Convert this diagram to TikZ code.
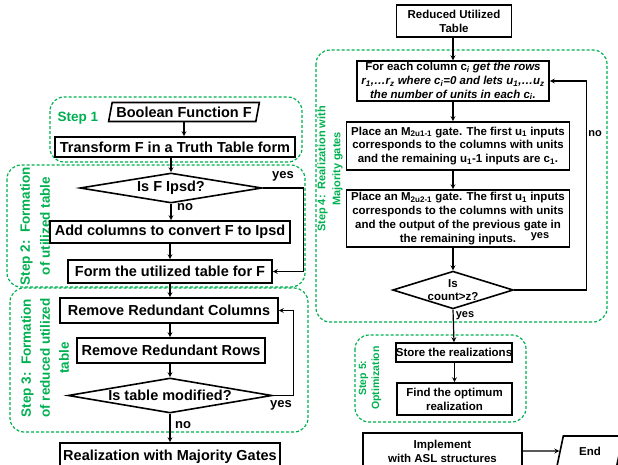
\documentclass[tikz,border=0pt]{standalone}
\usepackage{fontspec}
\setmainfont{Liberation Sans}
\usetikzlibrary{shapes.geometric}
\definecolor{stepgreen}{RGB}{0,176,80}
\tikzset{
  block/.style={draw, line width=1.6pt, inner sep=1pt},
  bigtext/.style={font=\bfseries\fontsize{14.5}{17}\selectfont},
  smalltext/.style={align=center, font=\bfseries\fontsize{11.5}{13.8}\selectfont},
  decision/.style={diamond, draw, line width=1.6pt, inner sep=0pt, aspect=6},
  io/.style={trapezium, trapezium left angle=75, trapezium right angle=105,
    trapezium stretches=true, draw, line width=1.6pt, inner sep=1pt},
  group/.style={draw=stepgreen, line width=1.2pt, dash pattern=on 3pt off 2pt, rounded corners=14pt},
  steplabel/.style={text=stepgreen, align=center, font=\bfseries\fontsize{13.5}{19}\selectfont},
  link/.style={-stealth, line width=1.2pt},
  answer/.style={font=\bfseries\fontsize{13}{15}\selectfont},
  smallanswer/.style={font=\bfseries\fontsize{11}{13}\selectfont},
}
\begin{document}
\begin{tikzpicture}[x=1pt, y=-1pt]
  \useasboundingbox (0,0) rectangle (618,464);

  % dashed step groups
  \draw[group] (50,97) rectangle (302,162);
  \draw[group] (7,165) rectangle (305,287);
  \draw[group] (10,288) rectangle (308,432);
  \draw[group] (316,50) rectangle (607,322);
  \draw[group] (355,335) rectangle (526,422);

  \node[steplabel] (s1) at (78,118) {Step 1};
  \node[steplabel, rotate=90, font=\bfseries\fontsize{13.5}{20}\selectfont] (s2) at (35,226) {Step 2:~~Formation\\of utilized table};
  \node[steplabel, rotate=90] (s3) at (45,358) {Step 3:~~Formation\\of reduced utilized\\table};
  \node[steplabel, rotate=90, font=\bfseries\fontsize{11}{15}\selectfont] (s4) at (330,169) {Step 4:~~Realization with\\Majority gates};
  \node[steplabel, rotate=90, font=\bfseries\fontsize{10.5}{13}\selectfont] (s5) at (370,378) {Step 5:\\Optimization};

  % left column
  \node[io, bigtext, minimum width=151pt, minimum height=19pt] (bool) at (184,112) {Boolean Function F};
  \node[block, bigtext, minimum width=240pt, minimum height=20pt] (trans) at (175,147) {Transform F in a Truth Table form};
  \node[decision, bigtext, minimum width=182pt, minimum height=30pt] (ipsd) at (171,188) {Is F Ipsd?};
  \node[block, bigtext, minimum width=240pt, minimum height=22pt] (addcol) at (170,232) {Add columns to convert F to Ipsd};
  \node[block, bigtext, minimum width=204pt, minimum height=23pt] (form) at (170,271.5) {Form the utilized table for F};
  \node[block, bigtext, minimum width=218pt, minimum height=25pt] (remcol) at (169,310.5) {Remove Redundant Columns};
  \node[block, bigtext, minimum width=188pt, minimum height=25pt] (remrow) at (171,350.5) {Remove Redundant Rows};
  \node[decision, bigtext, minimum width=204pt, minimum height=35pt] (modif) at (170,395.5) {Is table modified?};
  \node[block, bigtext, minimum width=220pt, minimum height=28pt] (realiz) at (170,457) {Realization with Majority Gates};

  \draw[link] (bool.south) -- (bool.south |- trans.north);
  \draw[link] (trans.south -| ipsd.north) -- (ipsd.north);
  \draw[link] (ipsd.south) -- (ipsd.south |- addcol.north);
  \draw[link] (addcol.south) -- (form.north);
  \draw[link] (form.south) -- (form.south |- remcol.north);
  \draw[link] (remcol.south -| modif.north) -- (modif.north |- remrow.north);
  \draw[link] (remrow.south -| modif.north) -- (modif.north);
  \draw[link] (modif.south) -- (realiz.north);
  \draw[link] (ipsd.east) -- ++(41,0) |- (form.east);
  \draw[link] (modif.east) -- ++(21,0) |- (remcol.east);

  \node[answer] (yes1) at (283,176) {yes};
  \node[answer] (no1) at (185,207) {no};
  \node[answer] (yes2) at (281,405) {yes};
  \node[answer] (no2) at (183,425) {no};

  % right column
  \node[block, smalltext, minimum width=115pt, minimum height=32pt] (red) at (454,21) {Reduced Utilized\\Table};
  \node[block, smalltext, minimum width=192pt, minimum height=38pt] (each) at (453,81)
    {For each column c\textsubscript{\itshape i} \textit{get the rows}\\
     \itshape r\textsubscript{1},…r\textsubscript{z} where c\textsubscript{i}=0 and lets u\textsubscript{1},…u\textsubscript{z}\\
     \itshape the number of units in each c\textsubscript{i}.};
  \node[block, smalltext, minimum width=223pt, minimum height=48pt] (gate1) at (458,146)
    {Place an M\textsubscript{2u1-1} gate. The first u\textsubscript{1} inputs\\
     corresponds to the columns with units\\
     and the remaining u\textsubscript{1}-1 inputs are c\textsubscript{1}.};
  \node[block, smalltext, minimum width=223pt, minimum height=57pt] (gate2) at (458,218.5)
    {Place an M\textsubscript{2u2-1} gate. The first u\textsubscript{1} inputs\\
     corresponds to the columns with units\\
     and the output of the previous gate in\\
     the remaining inputs.};
  \node[decision, smalltext, aspect=3.2, minimum width=120pt, minimum height=36pt] (count) at (453,290) {Is\\count>z?};
  \node[block, smalltext, inner sep=0pt, minimum width=116pt, minimum height=19pt] (store) at (454,352.5) {Store the realizations};
  \node[block, smalltext, minimum width=115pt, minimum height=32pt] (optim) at (454.5,399) {Find the optimum\\realization};
  \node[block, smalltext, minimum width=159pt, minimum height=36pt] (impl) at (442.5,451) {Implement\\with ASL structures};
  \node[io, smalltext, minimum width=66pt, minimum height=30pt] (end) at (590,451) {End};

  \draw[link] (red.south -| each.north) -- (each.north);
  \draw[link] (each.south) -- (each.south |- gate1.north);
  \draw[link] (each.south |- gate1.south) -- (each.south |- gate2.north);
  \draw[link] (gate2.south -| count.north) -- (count.north);
  \draw[link] (count.south) -- (store.north);
  \draw[link] (store.south -| optim.north) -- (optim.north);
  \draw[link] (count.east) -- ++(72,0) |- (each.east);
  \draw[link] (impl.east) -- (end.west);

  \node[smallanswer] (yes3) at (540,237) {yes};
  \node[smallanswer] (no3) at (595,134) {no};
  \node[smallanswer] (yes4) at (465,316) {yes};
\end{tikzpicture}
\end{document}
